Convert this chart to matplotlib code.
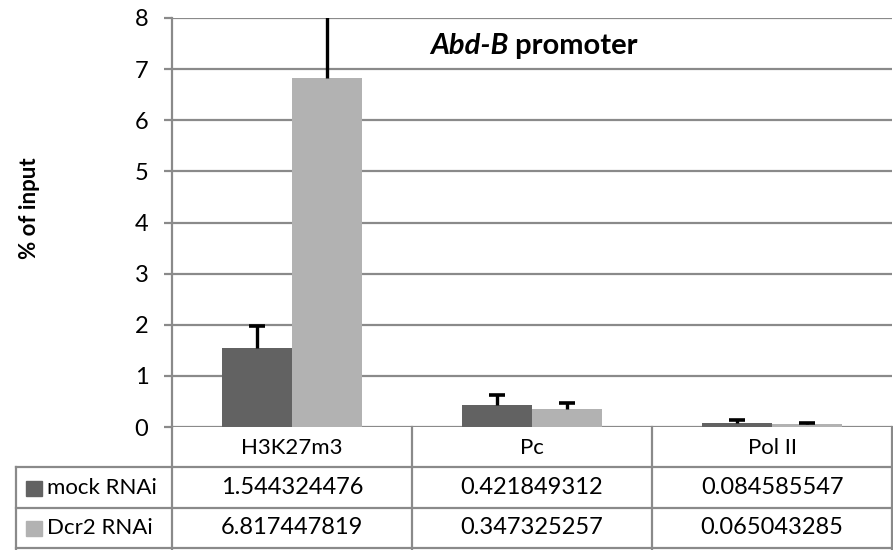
import numpy as np
import matplotlib.pyplot as plt
import matplotlib.transforms as mtransforms
from matplotlib.lines import Line2D
from matplotlib.patches import Rectangle

plt.rcParams['font.family'] = ['Lato', 'DejaVu Sans']

# DATA
categories = ['H3K27m3', 'Pc', 'Pol II']
series = ['mock RNAi', 'Dcr2 RNAi']
mock = [1.544324476, 0.421849312, 0.084585547]
dcr2 = [6.817447819, 0.347325257, 0.065043285]
mock_err = [0.43, 0.20, 0.055]
dcr2_err = [1.60, 0.13, 0.02]
cell_text = [['1.544324476', '0.421849312', '0.084585547'],
             ['6.817447819', '0.347325257', '0.065043285']]
colors = ['#626262', '#b2b2b2']

W, H = 893, 550
grid_c = '#8a8a8a'
fs = 16
fs_num = 17

# PLOTTING
fig = plt.figure(figsize=(W / 100, H / 100), dpi=100)
ax = fig.add_axes([172 / W, 1 - 427 / H, (892 - 172) / W, (427 - 18) / H])
ax.set_xlim(-0.5, 2.5)
ax.set_ylim(0, 8)

x = np.arange(len(categories))
bw = 0.29
for xs, vals, errs, c in [(x - bw / 2, mock, mock_err, colors[0]),
                          (x + bw / 2, dcr2, dcr2_err, colors[1])]:
    ax.bar(xs, vals, bw, color=c, zorder=3)
    tops = np.array(vals) + np.array(errs)
    ax.vlines(xs, vals, tops, color='black', lw=2.4, zorder=4)
    ax.plot(xs, tops, ls='none', marker='_', ms=12, mew=2.6, color='black', zorder=4)

ax.set_yticks(range(0, 9))
ax.yaxis.grid(True, color=grid_c, linewidth=1.6)
ax.set_axisbelow(True)
ax.tick_params(axis='y', length=6, width=1.6, color=grid_c, labelsize=fs_num, pad=11)
ax.tick_params(axis='x', bottom=False, labelbottom=False)
for s in ['top', 'right', 'bottom']:
    ax.spines[s].set_visible(False)
ax.spines['left'].set_color(grid_c)
ax.spines['left'].set_linewidth(1.6)

def fy(py):
    return 1 - py / H

fig.text(30 / W, fy(208), '% of input', rotation=90, ha='center', va='center',
         fontsize=16, fontweight='bold')

# title with italic gene name
t1 = fig.text(430 / W, fy(54), 'Abd-B', fontsize=21, fontweight='bold',
              style='italic', va='baseline')
fig.canvas.draw()
w1 = t1.get_window_extent().width
off = mtransforms.offset_copy(t1.get_transform(), fig=fig, x=w1 / fig.dpi * 72, units='points')
fig.text(430 / W, fy(54), ' promoter', fontsize=21, fontweight='bold',
         va='baseline', transform=off)

# data table below the axis
blend = mtransforms.blended_transform_factory(ax.transData, fig.transFigure)
lw = 1.6
fig.add_artist(Line2D([172 / W, 172 / W], [fy(427), fy(550)], color=grid_c, lw=lw))
for b in [0.5, 1.5]:
    fig.add_artist(Line2D([b, b], [fy(427), fy(550)], color=grid_c, lw=lw, transform=blend))
for py in [467, 508, 548]:
    fig.add_artist(Line2D([16 / W, 892 / W], [fy(py), fy(py)], color=grid_c, lw=lw))
fig.add_artist(Line2D([16 / W, 16 / W], [fy(467), fy(550)], color=grid_c, lw=lw))
fig.add_artist(Line2D([892 / W, 892 / W], [fy(427), fy(550)], color=grid_c, lw=lw))

for i, cat in enumerate(categories):
    fig.text(x[i], fy(448), cat, ha='center', va='center', fontsize=fs, transform=blend)
for r, name in enumerate(series):
    yc = 488 + 40 * r
    fig.add_artist(Rectangle((26 / W, fy(496 + 40 * r)), 16 / W, 15 / H, color=colors[r]))
    fig.text(47 / W, fy(yc), name, ha='left', va='center', fontsize=fs)
    for i in range(len(categories)):
        fig.text(x[i], fy(yc), cell_text[r][i], ha='center', va='center',
                 fontsize=fs_num, transform=blend)

plt.savefig('out.png', dpi=100)
